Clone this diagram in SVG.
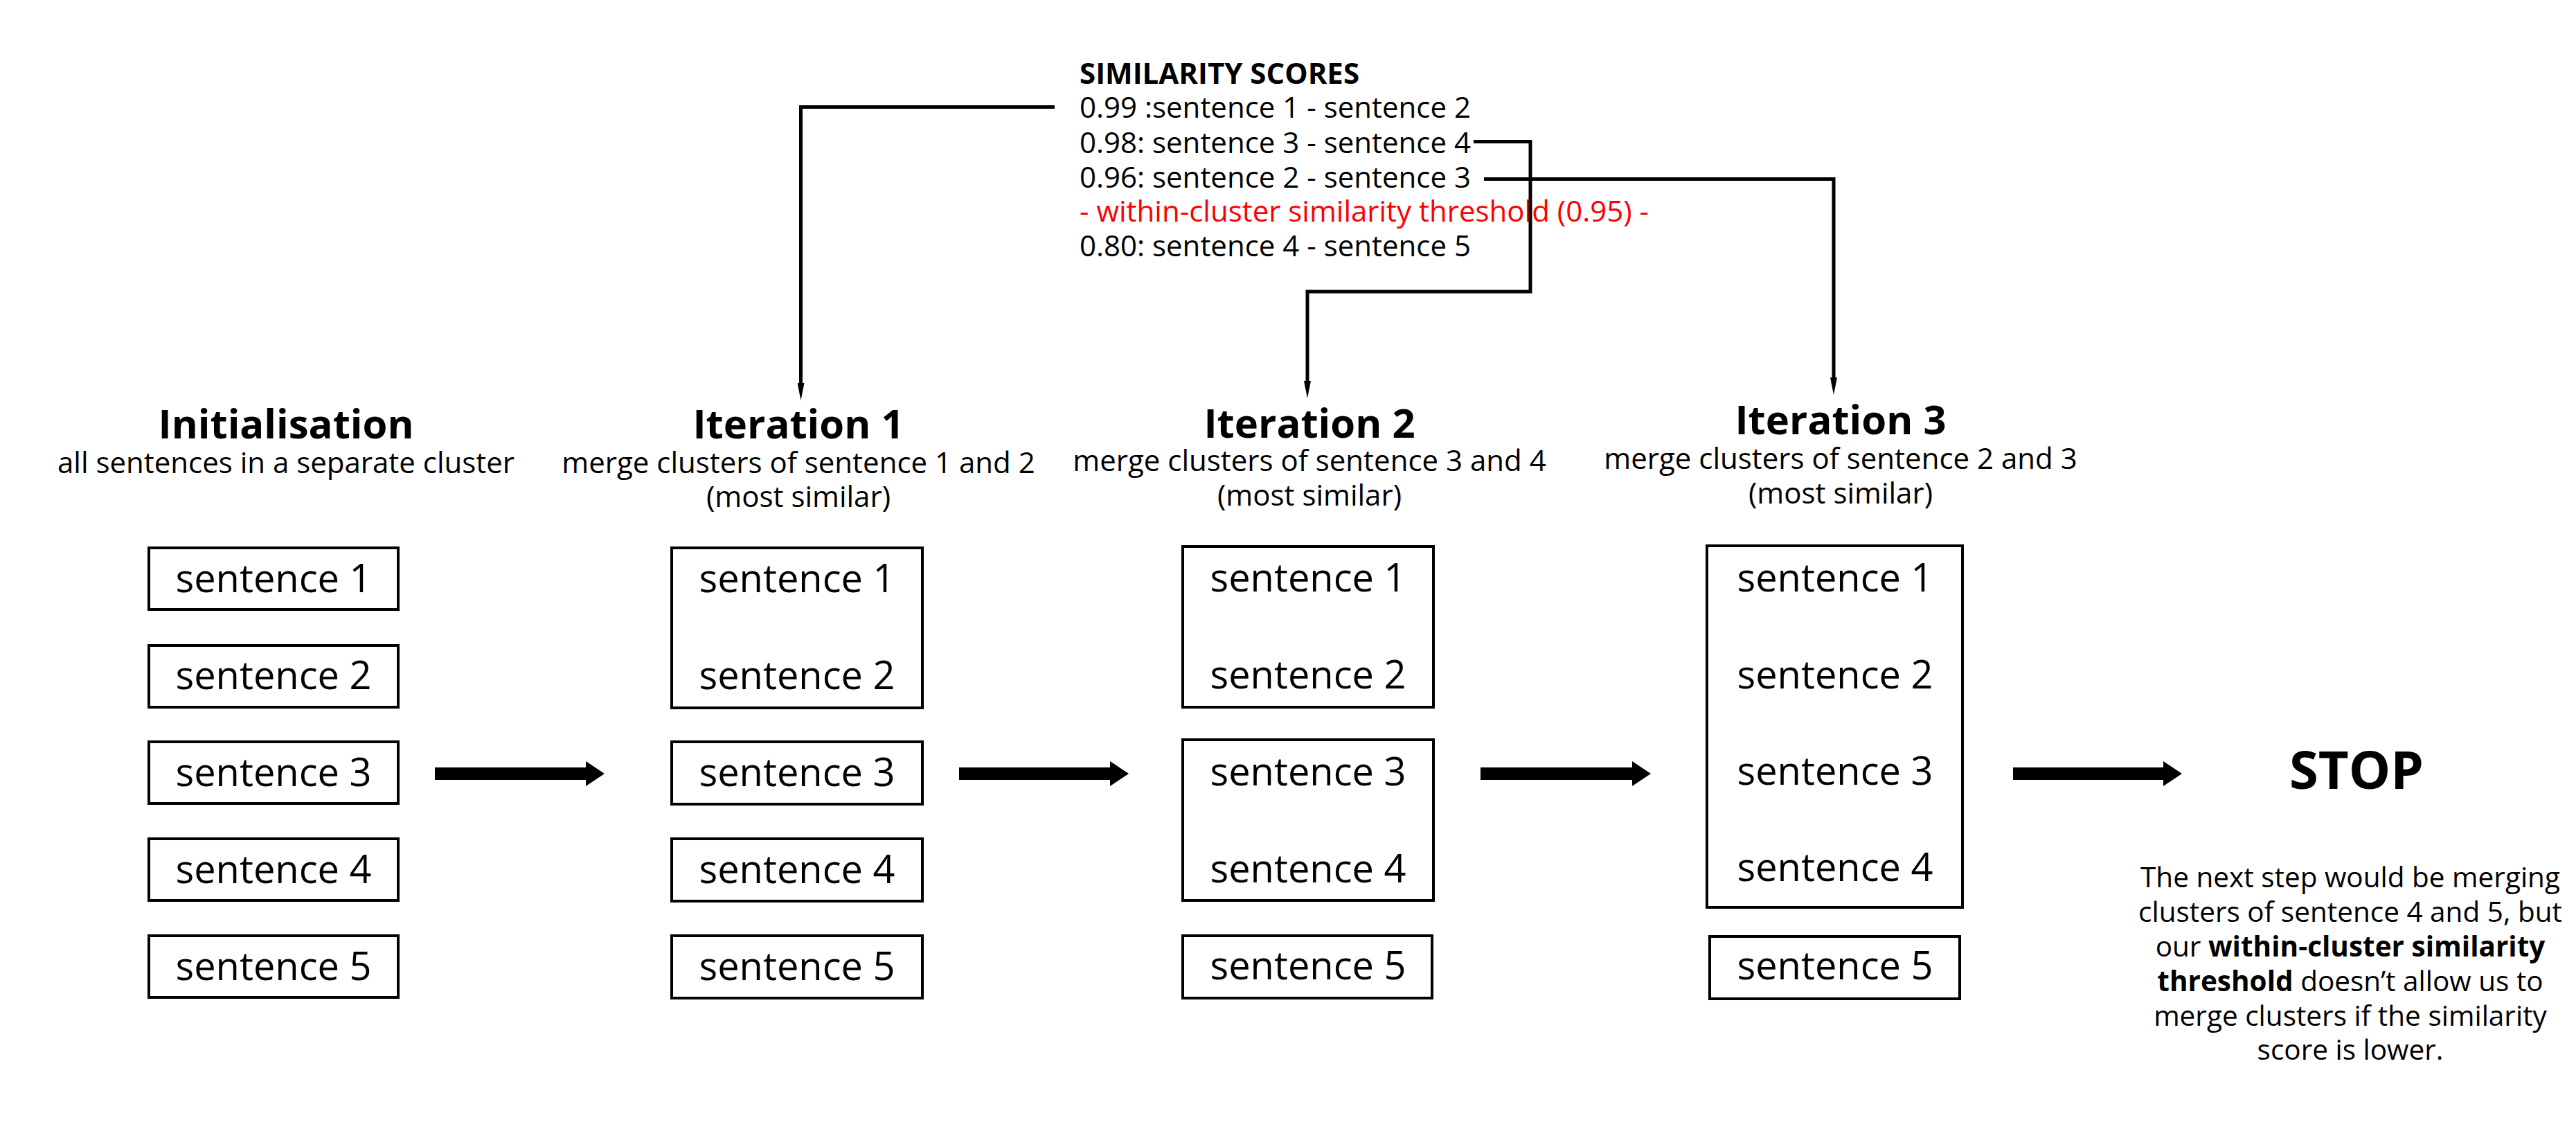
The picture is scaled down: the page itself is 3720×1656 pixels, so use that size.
<svg xmlns="http://www.w3.org/2000/svg" width="3720" height="1656" viewBox="0 0 3720 1656">
<style>
text{font-family:"Open Sans","Noto Sans","Liberation Sans",sans-serif;fill:#000}
.box{fill:#fff;stroke:#000;stroke-width:4}
.s{font-size:56px;text-anchor:middle}
.t{font-size:58px;font-weight:bold;text-anchor:middle}
.sub{font-size:42px;text-anchor:middle}
.sc{font-size:42px}
.p{font-size:40.5px;text-anchor:middle}
.c{fill:none;stroke:#000;stroke-width:5}
</style>
<defs>
<marker id="ah" viewBox="0 0 25 10" refX="7" refY="5" markerWidth="25" markerHeight="10" markerUnits="userSpaceOnUse" orient="auto">
<path d="M0,0 L25,5 L0,10 z" fill="#000"/>
</marker>
</defs>
<rect width="3720" height="1656" fill="#fff"/>

<g id="scores">
<text class="sc" x="1559" y="121" font-weight="bold">SIMILARITY SCORES</text>
<text class="sc" x="1559" y="170">0.99 :sentence 1 - sentence 2</text>
<text class="sc" x="1559" y="221">0.98: sentence 3 - sentence 4</text>
<text class="sc" x="1559" y="271">0.96: sentence 2 - sentence 3</text>
<text class="sc" x="1559" y="320" style="fill:#ff0000">- within-cluster similarity threshold (0.95) -</text>
<text class="sc" x="1559" y="370">0.80: sentence 4 - sentence 5</text>
</g>

<g id="init">
<text class="t" x="413" y="633">Initialisation</text>
<text class="sub" x="413" y="683">all sentences in a separate cluster</text>
<rect class="box" x="215" y="791" width="360" height="89"/>
<rect class="box" x="215" y="932" width="360" height="89"/>
<rect class="box" x="215" y="1071" width="360" height="89"/>
<rect class="box" x="215" y="1211" width="360" height="89"/>
<rect class="box" x="215" y="1351" width="360" height="89"/>
<text class="s" x="395" y="855">sentence 1</text>
<text class="s" x="395" y="995">sentence 2</text>
<text class="s" x="395" y="1135">sentence 3</text>
<text class="s" x="395" y="1275">sentence 4</text>
<text class="s" x="395" y="1415">sentence 5</text>
</g>

<g id="iter1">
<text class="t" x="1153" y="633">Iteration 1</text>
<text class="sub" x="1153" y="683">merge clusters of sentence 1 and 2</text>
<text class="sub" x="1153" y="732">(most similar)</text>
<rect class="box" x="970" y="791" width="362" height="231"/>
<rect class="box" x="970" y="1071" width="362" height="90"/>
<rect class="box" x="970" y="1211" width="362" height="90"/>
<rect class="box" x="970" y="1351" width="362" height="90"/>
<text class="s" x="1151" y="855">sentence 1</text>
<text class="s" x="1151" y="995">sentence 2</text>
<text class="s" x="1151" y="1135">sentence 3</text>
<text class="s" x="1151" y="1275">sentence 4</text>
<text class="s" x="1151" y="1415">sentence 5</text>
</g>

<g id="iter2">
<text class="t" x="1891" y="632">Iteration 2</text>
<text class="sub" x="1891" y="680">merge clusters of sentence 3 and 4</text>
<text class="sub" x="1891" y="730">(most similar)</text>
<rect class="box" x="1708" y="789" width="362" height="232"/>
<rect class="box" x="1708" y="1068" width="362" height="232"/>
<rect class="box" x="1708" y="1351" width="360" height="90"/>
<text class="s" x="1889" y="854">sentence 1</text>
<text class="s" x="1889" y="994">sentence 2</text>
<text class="s" x="1889" y="1134">sentence 3</text>
<text class="s" x="1889" y="1274">sentence 4</text>
<text class="s" x="1889" y="1414">sentence 5</text>
</g>

<g id="iter3">
<text class="t" x="2658" y="627">Iteration 3</text>
<text class="sub" x="2658" y="677">merge clusters of sentence 2 and 3</text>
<text class="sub" x="2658" y="727">(most similar)</text>
<rect class="box" x="2465" y="788" width="369" height="522"/>
<rect class="box" x="2469" y="1352" width="361" height="90"/>
<text class="s" x="2650" y="854">sentence 1</text>
<text class="s" x="2650" y="994">sentence 2</text>
<text class="s" x="2650" y="1133">sentence 3</text>
<text class="s" x="2650" y="1272">sentence 4</text>
<text class="s" x="2650" y="1414">sentence 5</text>
</g>

<g id="stop">
<text x="3403" y="1139" style="font-size:76px;font-weight:bold;text-anchor:middle">STOP</text>
<text class="p" x="3394" y="1281">The next step would be merging</text>
<text class="p" x="3394" y="1331">clusters of sentence 4 and 5, but</text>
<text class="p" x="3394" y="1381">our <tspan font-weight="bold">within-cluster similarity</tspan></text>
<text class="p" x="3394" y="1431"><tspan font-weight="bold">threshold</tspan> doesn’t allow us to</text>
<text class="p" x="3394" y="1481">merge clusters if the similarity</text>
<text class="p" x="3394" y="1530">score is lower.</text>
</g>

<g id="connectors">
<path class="c" d="M1523,154.5 H1156.5 V560" marker-end="url(#ah)"/>
<path class="c" d="M2128,204.5 H2210 V421 H1888 V557" marker-end="url(#ah)"/>
<path class="c" d="M2143,258.5 H2648 V552" marker-end="url(#ah)"/>
<path d="M628,1108 H846 V1099 L873,1117 L846,1135 V1126 H628 Z" fill="#000"/>
<path d="M1385,1108 H1603 V1099 L1630,1117 L1603,1135 V1126 H1385 Z" fill="#000"/>
<path d="M2138,1108 H2357 V1099 L2384,1117 L2357,1135 V1126 H2138 Z" fill="#000"/>
<path d="M2907,1108 H3124 V1099 L3151,1117 L3124,1135 V1126 H2907 Z" fill="#000"/>
</g>
</svg>
